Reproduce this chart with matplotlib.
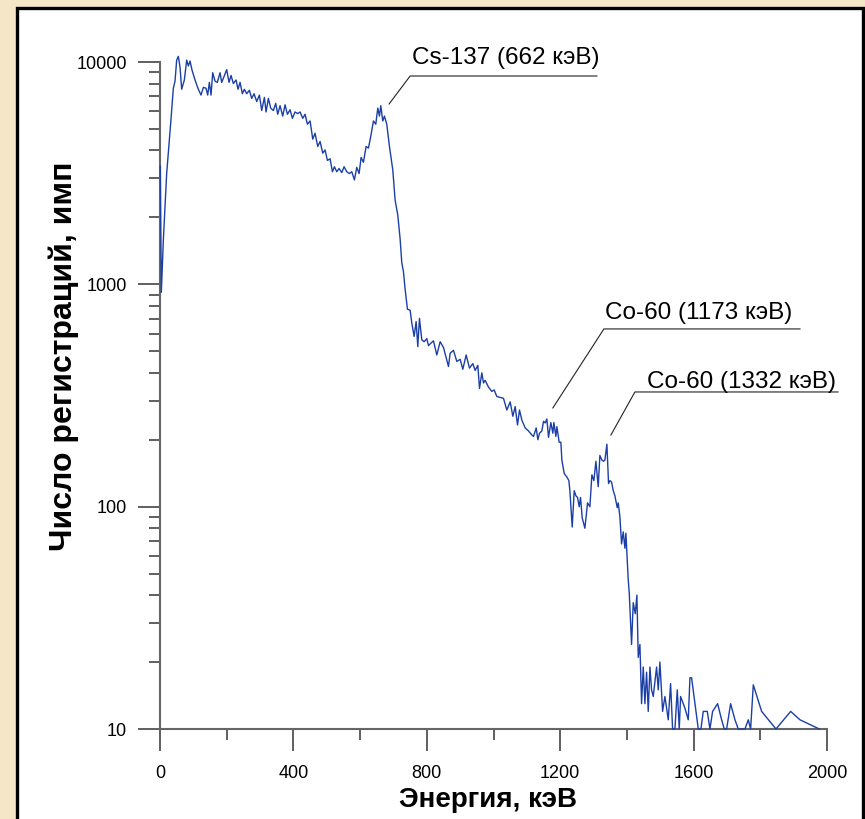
import matplotlib
matplotlib.use('Agg')
import matplotlib.pyplot as plt
from matplotlib.patches import Rectangle
from matplotlib.ticker import LogLocator, NullFormatter, FixedLocator

plt.rcParams['font.family'] = ['Liberation Sans', 'DejaVu Sans']

# gamma spectrum: energy (keV) and counts
energy_kev = [
    1, 4, 10, 20, 32, 40, 45, 50, 55, 60, 65, 73, 80, 85, 90, 96, 105, 115, 123, 130,
    138, 143, 148, 153, 158, 165, 172, 180, 185, 192, 200, 207, 213, 220, 228, 234, 240, 247, 253, 260,
    268, 275, 282, 290, 298, 305, 313, 318, 325, 332, 340, 347, 353, 360, 368, 375, 382, 390, 397, 405,
    413, 420, 428, 435, 442, 450, 458, 465, 473, 480, 488, 495, 502, 510, 517, 523, 530, 537, 545, 552,
    560, 568, 575, 583, 590, 597, 603, 610, 618, 625, 632, 640, 647, 653, 658, 662, 668, 673, 680, 688,
    698, 705, 713, 720, 725, 730, 735, 742, 750, 755, 762, 768, 773, 778, 785, 792, 800, 805, 813, 820,
    830, 840, 850, 865, 870, 880, 890, 900, 908, 918, 928, 938, 945, 953, 958, 965, 970, 975, 985, 995,
    1002, 1010, 1020, 1030, 1040, 1050, 1058, 1065, 1072, 1078, 1085, 1095, 1105, 1115, 1120, 1128, 1133, 1138, 1145, 1150,
    1155, 1160, 1165, 1172, 1178, 1181, 1187, 1190, 1197, 1202, 1205, 1212, 1220, 1226, 1229, 1236, 1242, 1247, 1252, 1257,
    1261, 1266, 1274, 1282, 1289, 1295, 1301, 1307, 1314, 1319, 1325, 1330, 1334, 1340, 1345, 1349, 1354, 1359, 1364, 1371,
    1374, 1379, 1384, 1389, 1394, 1397, 1404, 1407, 1414, 1419, 1425, 1430, 1434, 1439, 1444, 1449, 1454, 1459, 1464, 1469,
    1474, 1479, 1489, 1494, 1499, 1507, 1514, 1524, 1531, 1537, 1544, 1551, 1557, 1561, 1574, 1584, 1589, 1594, 1604, 1614,
    1622, 1629, 1641, 1649, 1657, 1672, 1684, 1692, 1699, 1711, 1724, 1734, 1754, 1764, 1771, 1779, 1804, 1847, 1891, 1919,
    1977,
]
counts = [
    3400, 920, 1580, 3150, 5300, 7620, 8200, 10200, 10600, 9500, 7540, 8300, 10200, 9600, 10100, 9200, 8300, 7540, 7100, 7690,
    7620, 7100, 8100, 7100, 8950, 8200, 8100, 8950, 8100, 8600, 9240, 8100, 8700, 8000, 8300, 7540, 8100, 7200, 7540, 7200,
    7460, 6860, 7200, 6640, 7100, 6050, 6930, 5960, 6860, 6200, 6050, 6520, 5820, 6360, 5710, 6420, 5820, 6100, 5580, 5960,
    5860, 5960, 5580, 5820, 5250, 5430, 4500, 4780, 4170, 4390, 3890, 4020, 3610, 3670, 3210, 3380, 3210, 3320, 3180, 3380,
    3210, 3150, 3210, 2950, 3360, 3150, 3720, 3540, 4170, 4100, 4630, 5430, 5250, 6200, 5710, 6360, 5430, 5710, 5250, 4170,
    3270, 2390, 2050, 1600, 1250, 1140, 950, 773, 765, 670, 583, 680, 525, 703, 563, 552, 570, 530, 545, 557,
    481, 552, 520, 427, 490, 505, 450, 460, 415, 481, 420, 440, 410, 432, 340, 400, 360, 370, 345, 330,
    335, 313, 310, 307, 272, 296, 255, 282, 233, 272, 245, 226, 219, 210, 207, 226, 200, 214, 219, 242,
    238, 248, 205, 239, 214, 239, 207, 229, 195, 195, 162, 141, 136, 131, 118, 81, 118, 112, 110, 100,
    110, 89, 80, 104, 100, 139, 131, 160, 123, 170, 162, 160, 162, 191, 127, 131, 129, 118, 112, 99,
    104, 90, 68, 77, 65, 76, 47, 41, 24, 37, 33, 40, 21, 24, 13, 19, 13, 18, 12, 19,
    15, 14, 19, 15, 20, 12, 14, 11, 16, 10, 10, 15, 10, 14, 12.4, 11, 17, 17, 13, 10,
    10, 12, 12, 10, 12, 13, 11, 10, 10, 13, 11, 10, 10, 11, 10, 15.8, 12, 10, 12, 11,
    10,
]

x_ticks = [0, 400, 800, 1200, 1600, 2000]
x_tick_labels = ['0', '400', '800', '1200', '1600', '2000']
y_ticks = [10, 100, 1000, 10000]
y_tick_labels = ['10', '100', '1000', '10000']

# peak callouts: label, point on the peak, knee of the leader, end of the shelf line, text anchor
peak_labels = ['Cs-137 (662 кэВ)', 'Co-60 (1173 кэВ)', 'Co-60 (1332 кэВ)']
peak_tips = [(687, 6475), (1178, 278), (1352, 210)]
peak_knees = [(750, 8650), (1331, 630), (1424, 328)]
shelf_ends = [1310, 1919, 2033]
label_pos = [(756, 9300), (1334, 665), (1460, 325)]

W, H = 865, 819
fig = plt.figure(figsize=(W / 100, H / 100), dpi=100)
fig.patch.set_facecolor('#F5E6C8')

# white panel with black frame
fig.add_artist(Rectangle((17.0 / W, -0.02), 846 / W, (H - 7.5) / H + 0.02,
                         transform=fig.transFigure, facecolor='white',
                         edgecolor='black', linewidth=2.4, zorder=0))

ax = fig.add_axes([160 / W, 0.10989, 667 / W, 0.8359])
ax.patch.set_visible(False)
ax.set_yscale('log')
ax.set_xlim(0, 2000)
ax.set_ylim(10, 12000)

ax.plot(energy_kev, counts, color='#1B3FA6', linewidth=1.0, clip_on=False, zorder=3)

for label, tip, knee, end, pos in zip(peak_labels, peak_tips, peak_knees, shelf_ends, label_pos):
    ax.plot([tip[0], knee[0], end], [tip[1], knee[1], knee[1]],
            color='#222222', linewidth=0.8, clip_on=False)
    ax.text(pos[0], pos[1], label, fontsize=17.5, ha='left', va='bottom', color='black')

for side in ['top', 'right']:
    ax.spines[side].set_visible(False)
for side in ['left', 'bottom']:
    ax.spines[side].set_color('#666666')
    ax.spines[side].set_linewidth(1.5)
ax.spines['left'].set_bounds(10, 10000)
ax.spines['bottom'].set_bounds(0, 2000)

ax.set_xticks(x_ticks)
ax.set_xticklabels(x_tick_labels)
ax.xaxis.set_minor_locator(FixedLocator([200, 600, 1000, 1400, 1800]))
ax.set_yticks(y_ticks)
ax.set_yticklabels(y_tick_labels)
ax.yaxis.set_minor_locator(LogLocator(base=10, subs=range(2, 10)))
ax.yaxis.set_minor_formatter(NullFormatter())

ax.tick_params(which='major', direction='out', length=15.8, width=1.2,
               color='#444444', labelsize=13, labelcolor='black')
ax.tick_params(which='minor', direction='out', length=8, width=1.2, color='#444444')
ax.tick_params(axis='x', which='major', pad=10)
ax.tick_params(axis='y', which='major', pad=8)

fig.text(488 / W, 1 - 800 / H, 'Энергия, кэВ', fontsize=20, fontweight='bold',
         ha='center', va='center')
fig.text(64 / W, 1 - 356 / H, 'Число регистраций, имп', fontsize=23, fontweight='bold',
         ha='center', va='center', rotation=90)

fig.savefig('out.png', dpi=100, facecolor=fig.get_facecolor())
